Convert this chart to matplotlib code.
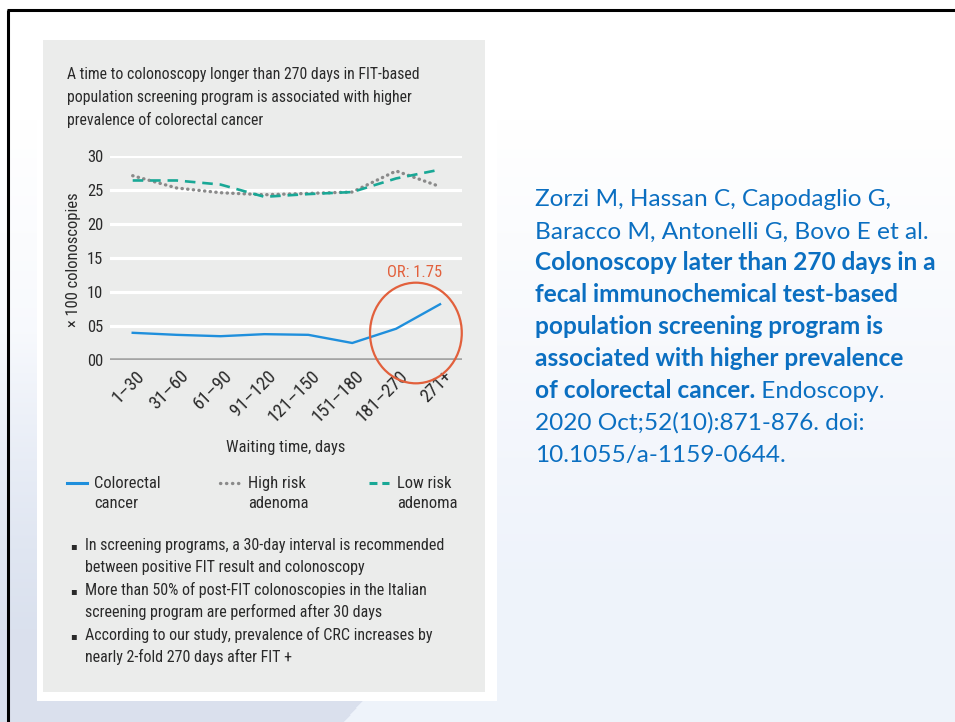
import numpy as np
import matplotlib
matplotlib.use('Agg')
import matplotlib.pyplot as plt
from matplotlib.patches import Rectangle, Ellipse
from matplotlib.lines import Line2D
import matplotlib.transforms as mtrans

# ---------------- data ----------------
categories = ["1–30", "31–60", "61–90", "91–120", "121–150", "151–180", "181–270", "271+"]
colorectal_cancer = [4.0, 3.7, 3.5, 3.8, 3.7, 2.5, 4.6, 8.2]
high_risk_adenoma = [27.1, 25.3, 24.6, 24.3, 24.5, 24.7, 27.8, 25.5]
low_risk_adenoma = [26.4, 26.4, 25.8, 24.0, 24.4, 24.7, 26.7, 28.0]
y_ticks = [0, 5, 10, 15, 20, 25, 30]
y_tick_labels = ["00", "05", "10", "15", "20", "25", "30"]
series_labels = ["Colorectal\ncancer", "High risk\nadenoma", "Low risk\nadenoma"]

title_lines = ["A time to colonoscopy longer than 270 days in FIT-based",
               "population screening program is associated with higher",
               "prevalence of colorectal cancer"]
bullets = [["In screening programs, a 30-day interval is recommended",
            "between positive FIT result and colonoscopy"],
           ["More than 50% of post-FIT colonoscopies in the Italian",
            "screening program are performed after 30 days"],
           ["According to our study, prevalence of CRC increases by",
            "nearly 2-fold 270 days after FIT +"]]
citation = [("Zorzi M, Hassan C, Capodaglio G,", None),
            ("Baracco M, Antonelli G, Bovo E et al.", None),
            ("Colonoscopy later than 270 days in a", "bold"),
            ("fecal immunochemical test-based", "bold"),
            ("population screening program is", "bold"),
            ("associated with higher prevalence", "bold"),
            ("of colorectal cancer.", "bold", " Endoscopy."),
            ("2020 Oct;52(10):871-876. doi:", None),
            ("10.1055/a-1159-0644.", None)]
odds_ratio_label = "OR: 1.75"

# ---------------- style ----------------
W, H = 955, 722
NARROW = ['Roboto Condensed', 'Roboto', 'DejaVu Sans']
CIT = ['Lato', 'DejaVu Sans']
TXT = '#2a2a2a'
BLUE = '#1f8fdc'
GRAY = '#8a8a8a'
TEAL = '#19a896'
ORANGE = '#e2603c'
CITBLUE = '#0b6fc1'

fig = plt.figure(figsize=(W / 100, H / 100), dpi=100)
renderer = fig.canvas.get_renderer()

bg = fig.add_axes([0, 0, 1, 1], zorder=0)
bg.set_xlim(0, W)
bg.set_ylim(H, 0)
bg.axis('off')

# background gradient
yy, xx = np.mgrid[0:H, 0:W].astype(float)
white = np.array([1.0, 1.0, 1.0])
c_right = np.array([0.937, 0.953, 0.984])
c_left = np.array([0.855, 0.882, 0.933])
t = np.clip((yy - 120) / 450, 0, 1)[..., None]
img = white * (1 - t) + c_right * t
mask = ((xx < 343 + (722 - yy) * 0.86) & (xx < 496))[..., None]
t2 = np.clip((yy - 330) / 300, 0, 1)[..., None]
img_left = img * (1 - t2) + c_left * t2
img = np.where(mask, img_left, img)
bg.imshow(img, extent=(0, W, H, 0), aspect='auto', zorder=0, interpolation='bilinear')

# panel
bg.add_patch(Rectangle((37, 34), 460, 667, fc='white', ec='none', zorder=1))
bg.add_patch(Rectangle((43, 40), 442, 652, fc='#ebeceb', ec='none', zorder=2))
# slide frame
bg.plot([7, W], [10, 10], color='black', lw=2.2, zorder=3, solid_capstyle='butt')
bg.plot([8, 8], [10, H], color='black', lw=2.2, zorder=3, solid_capstyle='butt')


def fit(text, family, target, weight='normal'):
    tt = fig.text(0, 0, text, fontsize=10, family=family, weight=weight)
    w = tt.get_window_extent(renderer).width
    tt.remove()
    return 10 * target / w


# title
fs_title = fit(title_lines[0], NARROW, 350)
for i, line in enumerate(title_lines):
    bg.text(67, 79.5 + 22.5 * i, line, fontsize=fs_title, family=NARROW, color=TXT,
            va='baseline', ha='left', zorder=5)

# bullets
fs_bul = fit(bullets[0][0], NARROW, 358)
k = 0
for b in bullets:
    for j, line in enumerate(b):
        yb = 550 + 22.4 * k
        if j == 0:
            bg.text(73, yb - 1, "▪", fontsize=fs_bul * 0.62, family=['DejaVu Sans'], color=TXT,
                    va='baseline', ha='center', zorder=5)
        bg.text(85, yb, line, fontsize=fs_bul, family=NARROW, color=TXT,
                va='baseline', ha='left', zorder=5)
        k += 1

# ---------------- chart ----------------
x0, x1, yt, yb0 = 110, 462, 156, 360
ax = fig.add_axes([x0 / W, 1 - yb0 / H, (x1 - x0) / W, (yb0 - yt) / H], zorder=2)
ax.patch.set_visible(False)
for s in ax.spines.values():
    s.set_visible(False)
xs = np.arange(len(categories))
ax.set_xlim(-0.517, 7.5)
ax.set_ylim(0, 30)
for yv in y_ticks[1:]:
    ax.axhline(yv, color='white', lw=2.3, zorder=1)
ax.axhline(0, color='#a4a4a4', lw=2.6, zorder=1)

ax.plot(xs, colorectal_cancer, color=BLUE, lw=1.7, zorder=4, clip_on=False)
ax.plot(xs, high_risk_adenoma, color=GRAY, lw=2.4, ls=(0, (0.1, 1.6)),
        dash_capstyle='round', zorder=3, clip_on=False)
ax.plot(xs, low_risk_adenoma, color=TEAL, lw=1.9, ls=(0, (4, 2.6)), zorder=3, clip_on=False)

fs_tick = fs_title * 1.05
ax.set_yticks(y_ticks, y_tick_labels, fontsize=fs_tick, family=NARROW, color=TXT)
ax.set_xticks(xs, categories, fontsize=fs_tick * 1.12, family=NARROW, color=TXT,
              rotation=45, ha='right', va='top', rotation_mode='anchor')
ax.tick_params(axis='both', length=0)
ax.tick_params(axis='y', pad=5)
ax.tick_params(axis='x', pad=5)
off = mtrans.ScaledTranslation(3 / 100, 0, fig.dpi_scale_trans)
for lab in ax.get_xticklabels():
    lab.set_transform(lab.get_transform() + off)

ax.add_patch(Ellipse((6.45, 3.97), 2.09, 14.8, fill=False, ec=ORANGE, lw=1.6,
                     clip_on=False, zorder=5))
bg.text(415, 277, odds_ratio_label, fontsize=fs_tick, family=NARROW, color=ORANGE,
        ha='center', va='baseline', zorder=5)

bg.text(73, 260, "× 100 colonoscopies", fontsize=fs_tick, family=NARROW, color=TXT,
        rotation=90, ha='center', va='center', zorder=5)
bg.text(286, 452.3, "Waiting time, days", fontsize=fs_tick, family=NARROW, color=TXT,
        ha='center', va='baseline', zorder=5)

# legend
leg_items = [(67, 94, dict(color=BLUE, lw=2.2)),
             (220, 248, dict(color=GRAY, lw=2.4, ls=(0, (0.1, 1.7)), dash_capstyle='round')),
             (369, 397, dict(color=TEAL, lw=2.2, ls=(0, (2.6, 1.6))))]
for (lx, tx, kw), lab in zip(leg_items, series_labels):
    bg.add_line(Line2D([lx, lx + 20], [482.5, 482.5], zorder=5, **kw))
    for j, part in enumerate(lab.split("\n")):
        bg.text(tx, 488.3 + 20 * j, part, fontsize=fs_tick, family=NARROW, color=TXT,
                ha='left', va='baseline', zorder=5)

# ---------------- citation ----------------
fs_cit = fit(citation[1][0], CIT, 392)
for i, item in enumerate(citation):
    yc = 206.5 + 31.9 * i
    weight = 'bold' if item[1] == 'bold' else 'normal'
    tt = bg.text(535, yc, item[0], fontsize=fs_cit, family=CIT, weight=weight,
                 color=CITBLUE, ha='left', va='baseline', zorder=5)
    if len(item) > 2:
        ext = tt.get_window_extent(renderer)
        bg.text(ext.x1, yc, item[2], fontsize=fs_cit, family=CIT, weight='normal',
                color=CITBLUE, ha='left', va='baseline', zorder=5)

fig.savefig('out.png', dpi=100)
